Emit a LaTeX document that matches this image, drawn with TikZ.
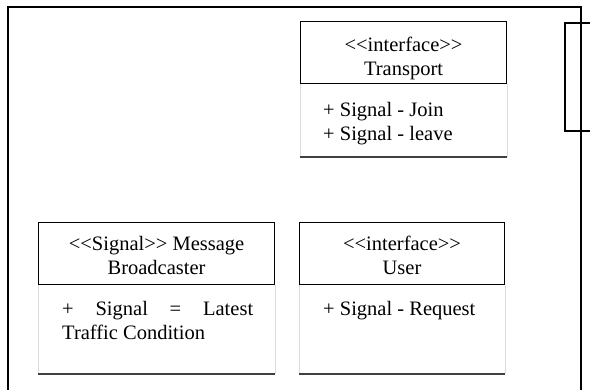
\documentclass[tikz,border=0pt]{standalone}
\usepackage{fontspec}
\setmainfont{Liberation Serif}[Ligatures=TeXOff]
\usepackage{tikz}
\usetikzlibrary{calc}
\tikzset{
	umlhead/.style = {draw, line width = 1.1pt, anchor = north west, inner sep = 0pt},
	umltext/.style = {inner sep = 0pt, align = center, font = \fontsize{20.5}{24}\selectfont},
	umlside/.style = {draw = black!14, line width = 0.9pt},
	umlbottom/.style = {draw = black!75, line width = 1.4pt},
}

\begin{document}
\begin{tikzpicture}[x = 1pt, y = -1pt]
	\def\hh{62};
	\def\ct{73};
	\def\cb{89};
	
	\clip (0,0) rectangle (590,389);
	
	\draw [line width = 2.4pt] (8,400) -- (8,7) -- (581,7) -- (581,400);
	\draw [line width = 2.2pt] (600,23) -- (565,23) -- (565,131) -- (600,131);
	
	\node [umlhead, minimum width = 206, minimum height = \hh] (transport) at (300,21) {};
	\node [umltext, anchor = north] (transportname) at ($(transport.north)+(0,16)$) {<<interface>>\\Transport};
	\draw [umlside] (transport.south west) -- ++(0,\ct) coordinate (transportbl);
	\draw [umlside] (transport.south east) -- ++(0,\ct) coordinate (transportbr);
	\draw [umlbottom] (transportbl) -- (transportbr);
	\node [umltext, align = left, anchor = north west] (transportops) at ($(transport.south west)+(23,18)$) {+ Signal - Join\\+ Signal - leave};
	
	\node [umlhead, minimum width = 236, minimum height = \hh] (broadcaster) at (38,222) {};
	\node [umltext, anchor = north] (broadcastername) at ($(broadcaster.north)+(0,14)$) {<<Signal>> Message\\Broadcaster};
	\draw [umlside] (broadcaster.south west) -- ++(0,\cb) coordinate (broadcasterbl);
	\draw [umlside] (broadcaster.south east) -- ++(0,\cb) coordinate (broadcasterbr);
	\draw [umlbottom] (broadcasterbl) -- (broadcasterbr);
	\node [umltext, align = left, anchor = north west] (broadcasterops) at ($(broadcaster.south west)+(24,16)$) {\makebox[191pt][s]{+ Signal = Latest}\\Traffic Condition};
	
	\node [umlhead, minimum width = 205, minimum height = \hh] (user) at (299,222) {};
	\node [umltext, anchor = north] (username) at ($(user.north)+(0,14)$) {<<interface>>\\User};
	\draw [umlside] (user.south west) -- ++(0,\cb) coordinate (userbl);
	\draw [umlside] (user.south east) -- ++(0,\cb) coordinate (userbr);
	\draw [umlbottom] (userbl) -- (userbr);
	\node [umltext, align = left, anchor = north west] (userops) at ($(user.south west)+(24,16)$) {+ Signal - Request};
\end{tikzpicture}
\end{document}
